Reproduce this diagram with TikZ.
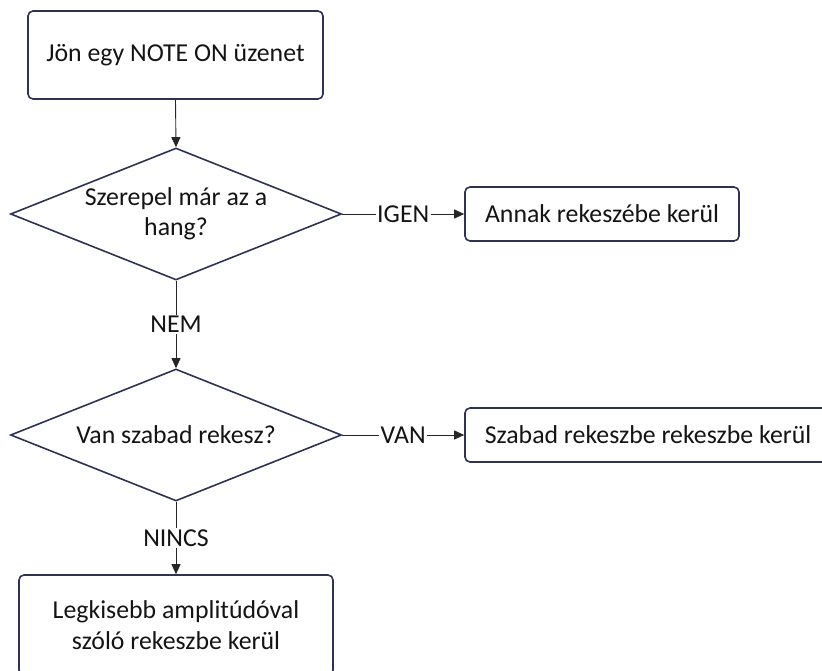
\documentclass[tikz,border=0pt]{standalone}
\usepackage{fontspec}
\setmainfont{Carlito}
\usetikzlibrary{shapes.geometric,arrows.meta}
\definecolor{boxline}{HTML}{2E3352}
\definecolor{linecol}{HTML}{262626}
\definecolor{txtcol}{HTML}{141414}
\begin{document}
\begin{tikzpicture}[x=1pt,y=-1pt,
  txt/.style={font=\fontsize{25.8}{30.5}\selectfont, text=txtcol, align=center},
  box/.style={draw=boxline, line width=1.6pt, rounded corners=5pt, fill=white, inner sep=0pt, txt},
  dec/.style={diamond, draw=boxline, line width=1.6pt, inner sep=0pt, fill=white,
    minimum width=331pt, minimum height=132pt},
  flow/.style={draw=linecol, line width=0.9pt, -{Triangle[length=10pt,width=9pt]}},
  lbl/.style={txt, fill=white, inner sep=1.5pt}
]
\useasboundingbox (0,0) rectangle (822,671);
\clip (0,0) rectangle (822,671);

% process boxes
\node[box, minimum width=295pt, minimum height=88pt] (start) at (175.5,55) {Jön egy NOTE ON üzenet};
\node[box, minimum width=274pt, minimum height=54pt] (same) at (602,214) {Annak rekeszébe kerül};
\node[box, minimum width=366pt, minimum height=54pt] (free) at (648,435) {Szabad rekeszbe rekeszbe kerül};
\node[box, minimum width=314pt, minimum height=100pt] (lowest) at (176,625) {Legkisebb amplitúdóval\\szóló rekeszbe kerül};

% decisions
\node[dec] (q1) at (176,214) {};
\node[txt] (q1t) at (q1) {Szerepel már az a\\hang?};
\node[dec] (q2) at (176,435) {};
\node[txt] (q2t) at (q2) {Van szabad rekesz?};

% connectors
\draw[flow] (start.south) -- (q1.north);
\draw[flow] (q1.east) -- node[lbl] (yes1) {IGEN} (same.west);
\draw[flow] (q1.south) -- node[lbl] (no1) {NEM} (q2.north);
\draw[flow] (q2.east) -- node[lbl] (yes2) {VAN} (free.west);
\draw[flow] (q2.south) -- node[lbl] (no2) {NINCS} (lowest.north);
\end{tikzpicture}
\end{document}
